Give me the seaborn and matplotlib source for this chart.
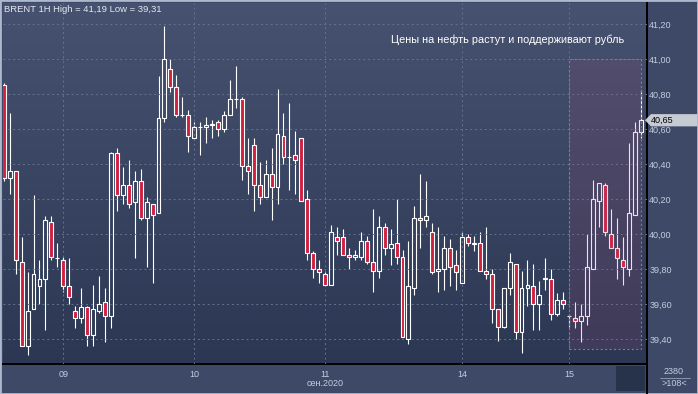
import numpy as np
import pandas as pd
import matplotlib
matplotlib.use('Agg')
import matplotlib.pyplot as plt
import matplotlib.patches as mpatches
import matplotlib.transforms as mtransforms
from matplotlib.colors import LinearSegmentedColormap
import seaborn as sns

# BRENT 1H candles, 09-15 Sep 2020
opens = [40.85, 40.32, 40.36, 39.84, 39.36, 39.57, 39.70, 39.74, 40.07, 39.86,
         39.85, 39.70, 39.56, 39.52, 39.58, 39.42, 39.56, 39.61, 39.53, 40.46,
         40.22, 40.28, 40.18, 40.30, 40.09, 40.17, 40.12, 40.66, 40.94, 40.84,
         40.68, 40.68, 40.55, 40.61, 40.61, 40.62, 40.64, 40.60, 40.68, 40.77,
         40.77, 40.39, 40.51, 40.28, 40.21, 40.34, 40.27, 40.56, 40.44, 40.45,
         40.55, 40.20, 39.89, 39.80, 39.77, 39.71, 39.98, 39.98, 39.88, 39.87,
         39.87, 39.96, 39.84, 39.79, 40.04, 39.92, 39.95, 39.87, 39.40, 39.69,
         40.09, 40.08, 40.01, 39.79, 39.80, 39.92, 39.82, 39.72, 39.98, 39.94,
         39.95, 39.79, 39.77, 39.57, 39.47, 39.69, 39.83, 39.44, 39.69, 39.70,
         39.60, 39.74, 39.74, 39.54, 39.62, 39.53, 39.52, 39.50, 39.53, 39.80,
         40.19, 40.28, 40.00, 39.92, 39.85, 39.80, 40.11, 40.58]
highs = [40.86, 40.69, 40.36, 39.98, 39.78, 40.22, 39.85, 40.10, 40.10, 39.95,
         39.87, 39.86, 39.59, 39.69, 39.59, 39.71, 39.76, 39.69, 40.47, 40.49,
         40.38, 40.42, 40.36, 40.37, 40.21, 40.17, 40.90, 41.19, 41.00, 40.91,
         40.78, 40.71, 40.64, 40.64, 40.67, 40.65, 40.65, 40.70, 40.88, 40.96,
         40.78, 40.55, 40.55, 40.41, 40.42, 40.49, 40.83, 40.69, 40.75, 40.59,
         40.55, 40.25, 39.90, 39.85, 39.78, 40.05, 40.04, 40.03, 39.92, 39.91,
         40.01, 39.99, 40.14, 40.10, 40.06, 40.03, 40.20, 39.91, 39.96, 40.16,
         40.34, 40.30, 40.06, 40.04, 39.99, 39.97, 39.91, 40.01, 40.00, 39.99,
         40.01, 40.04, 39.80, 39.57, 39.69, 39.89, 39.83, 39.79, 39.85, 39.83,
         39.73, 39.86, 39.80, 39.66, 39.67, 39.54, 39.61, 39.60, 40.00, 40.31,
         40.29, 40.29, 40.14, 40.09, 39.98, 40.52, 40.64, 40.82]
lows = [40.30, 40.23, 39.77, 39.36, 39.31, 39.57, 39.60, 39.45, 39.85, 39.81,
        39.67, 39.60, 39.46, 39.49, 39.36, 39.36, 39.55, 39.38, 39.46, 40.13,
        40.17, 40.15, 39.86, 40.08, 39.81, 39.72, 40.12, 40.64, 40.81, 40.67,
        40.67, 40.47, 40.55, 40.45, 40.52, 40.55, 40.56, 40.58, 40.68, 40.72,
        40.31, 40.23, 40.13, 40.17, 40.21, 40.08, 40.17, 40.40, 40.25, 40.23,
        40.19, 39.85, 39.75, 39.72, 39.70, 39.71, 39.88, 39.88, 39.80, 39.85,
        39.85, 39.83, 39.67, 39.75, 39.88, 39.82, 39.83, 39.41, 39.37, 39.65,
        39.92, 40.04, 39.77, 39.67, 39.68, 39.70, 39.68, 39.72, 39.93, 39.90,
        39.79, 39.74, 39.49, 39.39, 39.46, 39.65, 39.40, 39.32, 39.59, 39.45,
        39.45, 39.68, 39.51, 39.53, 39.57, 39.47, 39.46, 39.38, 39.48, 39.80,
        40.04, 39.99, 39.92, 39.74, 39.71, 39.76, 40.11, 40.55]
closes = [40.32, 40.36, 39.85, 39.36, 39.56, 39.77, 39.74, 40.08, 39.87, 39.86,
          39.70, 39.64, 39.52, 39.58, 39.42, 39.57, 39.60, 39.53, 40.46, 40.22,
          40.28, 40.17, 40.30, 40.09, 40.18, 40.11, 40.66, 41.00, 40.84, 40.68,
          40.68, 40.56, 40.61, 40.61, 40.62, 40.63, 40.60, 40.68, 40.77, 40.77,
          40.39, 40.36, 40.28, 40.21, 40.34, 40.27, 40.57, 40.44, 40.44, 40.42,
          40.19, 39.89, 39.80, 39.78, 39.71, 40.01, 39.96, 39.88, 39.87, 39.88,
          39.96, 39.84, 39.79, 40.04, 39.92, 39.94, 39.87, 39.41, 39.70, 40.09,
          40.08, 40.10, 39.78, 39.80, 39.92, 39.81, 39.78, 39.98, 39.95, 39.95,
          39.79, 39.77, 39.57, 39.47, 39.69, 39.84, 39.44, 39.69, 39.71, 39.60,
          39.65, 39.75, 39.54, 39.62, 39.60, 39.53, 39.50, 39.53, 39.81, 40.20,
          40.29, 40.01, 39.92, 39.86, 39.81, 40.12, 40.58, 40.65]

day_labels = ['09', '10', '11', '14', '15']
day_start = [10, 32, 54, 77, 95]      # first hourly bar of each day
month_label = 'сен.2020'
price_ticks = [39.4, 39.6, 39.8, 40.0, 40.2, 40.4, 40.6, 40.8, 41.0, 41.2]
note = 'Цены на нефть растут и поддерживают рубль'
hl_from, hl_to = 95, 107               # highlighted bars
hl_low, hl_high = 39.34, 41.00

RED = '#d11f3f'
BAND = '#3d4966'
TXT = '#c4cce0'

sns.set_style('dark')
plt.rcParams['font.family'] = ['Liberation Sans', 'DejaVu Sans']

df = pd.DataFrame({'i': np.arange(len(opens)), 'open': opens, 'high': highs,
                   'low': lows, 'close': closes})
df['body_lo'] = df[['open', 'close']].min(axis=1)
df['body_hi'] = df[['open', 'close']].max(axis=1)
df['body'] = df['body_hi'] - df['body_lo']
up = df[df['close'] >= df['open']]
dn = df[df['close'] < df['open']]

fig = plt.figure(figsize=(6.98, 3.94), dpi=100, facecolor=BAND)
ax = fig.add_axes([3 / 698, 30 / 394, 643.5 / 698, 361 / 394])

# background gradient
grad = np.linspace(0, 1, 256).reshape(-1, 1)
cmap = LinearSegmentedColormap.from_list('bg', ['#46526f', '#2b3753'])
ax.imshow(grad, extent=(0, 1, 0, 1), transform=ax.transAxes, aspect='auto',
          cmap=cmap, zorder=0)

# wicks (split so they do not run through hollow bodies)
ax.vlines(df['i'], df['body_hi'], df['high'], color='white', lw=0.8, zorder=2)
ax.vlines(df['i'], df['low'], df['body_lo'], color='white', lw=0.8, zorder=2)

# bodies
sns.barplot(data=up, x='i', y='body', bottom=up['body_lo'].values, native_scale=True,
            fill=False, color='white', linewidth=0.8, width=0.66, errorbar=None,
            ax=ax, zorder=3)
sns.barplot(data=dn, x='i', y='body', bottom=dn['body_lo'].values, native_scale=True,
            color=RED, edgecolor='white', linewidth=0.8, width=0.66, errorbar=None,
            saturation=1, ax=ax, zorder=3)

# highlighted zone
ax.add_patch(mpatches.Rectangle((hl_from, hl_low), hl_to - hl_from, hl_high - hl_low,
                                facecolor='#a84a78', alpha=0.17, zorder=4, lw=0))
ax.add_patch(mpatches.Rectangle((hl_from, hl_low), hl_to - hl_from, hl_high - hl_low,
                                facecolor='none', edgecolor='#857a92', lw=0.8,
                                linestyle=(0, (2, 2)), zorder=4))

ax.set_xlim(-0.13, 108.0)
ax.set_ylim(39.257, 41.32)
ax.set_xlabel('')
ax.set_ylabel('')

ax.yaxis.tick_right()
ax.set_yticks(price_ticks)
ax.set_yticklabels([f'{t:.2f}'.replace('.', ',') for t in price_ticks])
ax.set_xticks(day_start)
ax.set_xticklabels(day_labels)
ax.tick_params(axis='both', length=0, labelsize=6.5, colors=TXT)
ax.tick_params(axis='y', pad=2)
ax.tick_params(axis='x', pad=4)
ax.grid(True, color='#66728f', linestyle=(0, (2, 3)), lw=0.7)
ax.set_axisbelow(False)
for gl in ax.get_xgridlines() + ax.get_ygridlines():
    gl.set_zorder(1)

for side in ['left', 'top']:
    ax.spines[side].set_visible(False)
for side in ['bottom', 'right']:
    ax.spines[side].set_color('black')
    ax.spines[side].set_linewidth(1.4)

ax.text(day_start[2], -0.054, month_label, transform=ax.get_xaxis_transform(),
        ha='center', va='center', fontsize=6.5, color=TXT)

# header + note
fig.text(4 / 698, 1 - 9 / 394,
         f'BRENT 1H High = {max(highs):.2f} Low = {min(lows):.2f}'.replace('.', ','),
         ha='left', va='center', fontsize=6.8, color='#e4e8f0')
fig.text(624 / 698, 1 - 40 / 394, note, ha='right', va='center', fontsize=7.8,
         color='white')

# last price tag
last = closes[-1]
tr = mtransforms.blended_transform_factory(fig.transFigure, ax.transData)
ax.add_patch(mpatches.Polygon([(645 / 698, last), (651 / 698, last + 0.035),
                               (1.0, last + 0.035), (1.0, last - 0.035),
                               (651 / 698, last - 0.035)], closed=True,
                              transform=tr, facecolor='#c6cad2', edgecolor='none',
                              clip_on=False, zorder=6))
ax.text(651 / 698, last, f'{last:.2f}'.replace('.', ','), transform=tr, ha='left',
        va='center', fontsize=6.5, color='black', zorder=7, clip_on=False)

# bottom right widgets
fig.patches.append(mpatches.Rectangle((616 / 698, 3 / 394), 29 / 698, 25 / 394,
                                      transform=fig.transFigure, facecolor='#27324b',
                                      edgecolor='none'))
fig.lines.append(plt.Line2D([646.5 / 698, 646.5 / 698], [0, 30 / 394],
                            transform=fig.transFigure, color='black', lw=1.4))
fig.lines.append(plt.Line2D([660 / 698, 690 / 698], [1 - 378 / 394, 1 - 378 / 394],
                            transform=fig.transFigure, color='#8a94aa', lw=0.7))
fig.text(674 / 698, 1 - 372 / 394, '2380', ha='center', va='center', fontsize=6.5,
         color=TXT)
fig.text(674 / 698, 1 - 384 / 394, f'>{len(closes)}<', ha='center', va='center',
         fontsize=6.5, color=TXT)

# window frame
fig.patches.append(mpatches.Rectangle((0, 0), 1, 1, transform=fig.transFigure,
                                      facecolor='none', edgecolor='#aeb8cc', lw=2))

fig.savefig('out.png', dpi=100, facecolor=fig.get_facecolor())
